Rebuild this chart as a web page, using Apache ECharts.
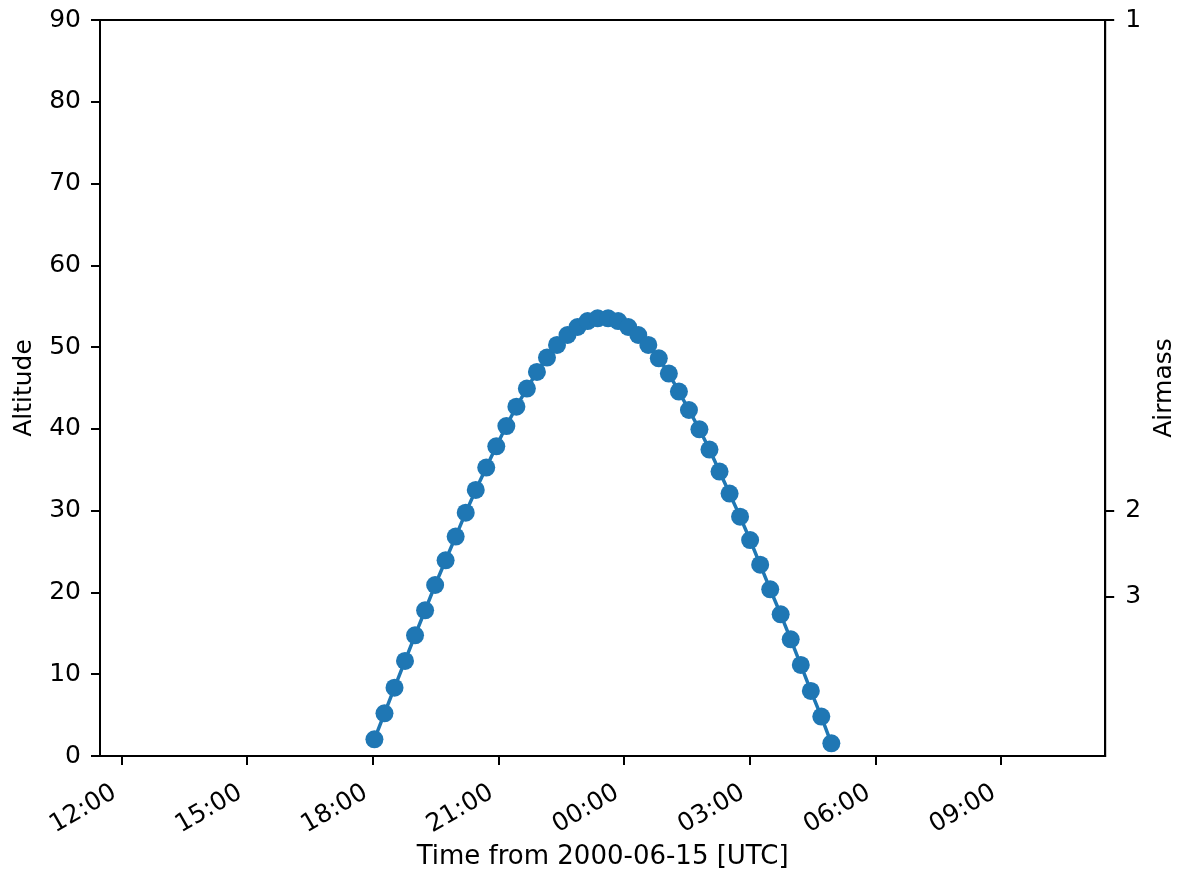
<!DOCTYPE html>
<html>
<head>
<meta charset="utf-8">
<script src="https://cdn.jsdelivr.net/npm/echarts@6/dist/echarts.min.js"></script>
<style>
  html, body { margin: 0; padding: 0; background: #fff; }
  #chart { width: 1185px; height: 877px; }
</style>
</head>
<body>
<div id="chart"></div>
<script>
// Times in hours counted from 2000-06-15 00:00 UTC (24 = midnight of next day)
const times = [18.04, 18.28, 18.52, 18.77, 19.01, 19.25, 19.49, 19.74, 19.98, 20.22,
               20.46, 20.71, 20.95, 21.19, 21.43, 21.68, 21.92, 22.16, 22.40, 22.65,
               22.89, 23.13, 23.37, 23.62, 23.86, 24.10, 24.34, 24.58, 24.83, 25.07,
               25.31, 25.55, 25.80, 26.04, 26.28, 26.52, 26.77, 27.01, 27.25, 27.49,
               27.74, 27.98, 28.22, 28.46, 28.71, 28.95];
// Altitude in degrees
const altitude = [2.04, 5.22, 8.36, 11.62, 14.76, 17.82, 20.91, 23.93, 26.83, 29.76,
                  32.53, 35.27, 37.87, 40.35, 42.72, 44.93, 46.96, 48.72, 50.26, 51.48,
                  52.46, 53.19, 53.52, 53.52, 53.19, 52.46, 51.48, 50.26, 48.63, 46.76,
                  44.56, 42.31, 39.95, 37.47, 34.78, 32.09, 29.27, 26.41, 23.40, 20.38,
                  17.33, 14.27, 11.13, 7.95, 4.82, 1.55];
const xTickHours = [12, 15, 18, 21, 24, 27, 30, 33];
const airmassTicks = [1, 2, 3];
const xMin = 11.488, xMax = 35.488;

const airmassAlt = airmassTicks.map(X => Math.asin(1 / X) * 180 / Math.PI);

const FONT = 'DejaVu Sans';
const FS = 25;
const LW = 2;

const chart = echarts.init(document.getElementById('chart'), null, { renderer: 'canvas' });

const option = {
  backgroundColor: '#ffffff',
  animation: false,
  grid: {
    left: 100, right: 77, top: 20, bottom: 121,
    show: true, borderColor: '#000', borderWidth: LW, backgroundColor: 'transparent'
  },
  xAxis: {
    type: 'value',
    min: xMin, max: xMax,
    name: 'Time from 2000-06-15 [UTC]',
    nameLocation: 'middle',
    nameGap: 87,
    nameTextStyle: { fontFamily: FONT, fontSize: 26, color: '#000' },
    axisLine: { show: true, onZero: false, lineStyle: { color: '#000', width: LW } },
    axisTick: { show: true, customValues: xTickHours, length: 9, lineStyle: { color: '#000', width: LW } },
    axisLabel: {
      customValues: xTickHours,
      rotate: 30,
      margin: 31,
      padding: [0, 8, 0, 0],
      fontFamily: FONT, fontSize: FS, color: '#000',
      formatter: v => String(Math.round(v) % 24).padStart(2, '0') + ':00'
    },
    splitLine: { show: false }
  },
  yAxis: [
    {
      type: 'value',
      min: 0, max: 90, interval: 10,
      position: 'left',
      name: 'Altitude',
      nameLocation: 'middle',
      nameRotate: 90,
      nameGap: 63,
      nameTextStyle: { fontFamily: FONT, fontSize: FS, color: '#000' },
      axisLine: { show: true, lineStyle: { color: '#000', width: LW } },
      axisTick: { show: true, length: 9, lineStyle: { color: '#000', width: LW } },
      axisLabel: { margin: 19, fontFamily: FONT, fontSize: FS, color: '#000' },
      splitLine: { show: false }
    },
    {
      type: 'value',
      min: 0, max: 90,
      position: 'right',
      name: 'Airmass',
      nameLocation: 'middle',
      nameRotate: 90,
      nameGap: 46,
      nameTextStyle: { fontFamily: FONT, fontSize: FS, color: '#000' },
      axisLine: { show: true, lineStyle: { color: '#000', width: LW } },
      axisTick: { show: true, customValues: airmassAlt, length: 9, lineStyle: { color: '#000', width: LW } },
      axisLabel: {
        customValues: airmassAlt,
        margin: 20,
        fontFamily: FONT, fontSize: FS, color: '#000',
        formatter: v => String(Math.round(1 / Math.sin(v * Math.PI / 180)))
      },
      splitLine: { show: false }
    }
  ],
  series: [{
    type: 'line',
    yAxisIndex: 0,
    data: times.map((t, i) => [t, altitude[i]]),
    symbol: 'circle',
    symbolSize: 18,
    showSymbol: true,
    color: '#1f77b4',
    itemStyle: { color: '#1f77b4' },
    lineStyle: { color: '#1f77b4', width: 3.5 },
    silent: true
  }]
};

chart.setOption(option);
</script>
</body>
</html>
